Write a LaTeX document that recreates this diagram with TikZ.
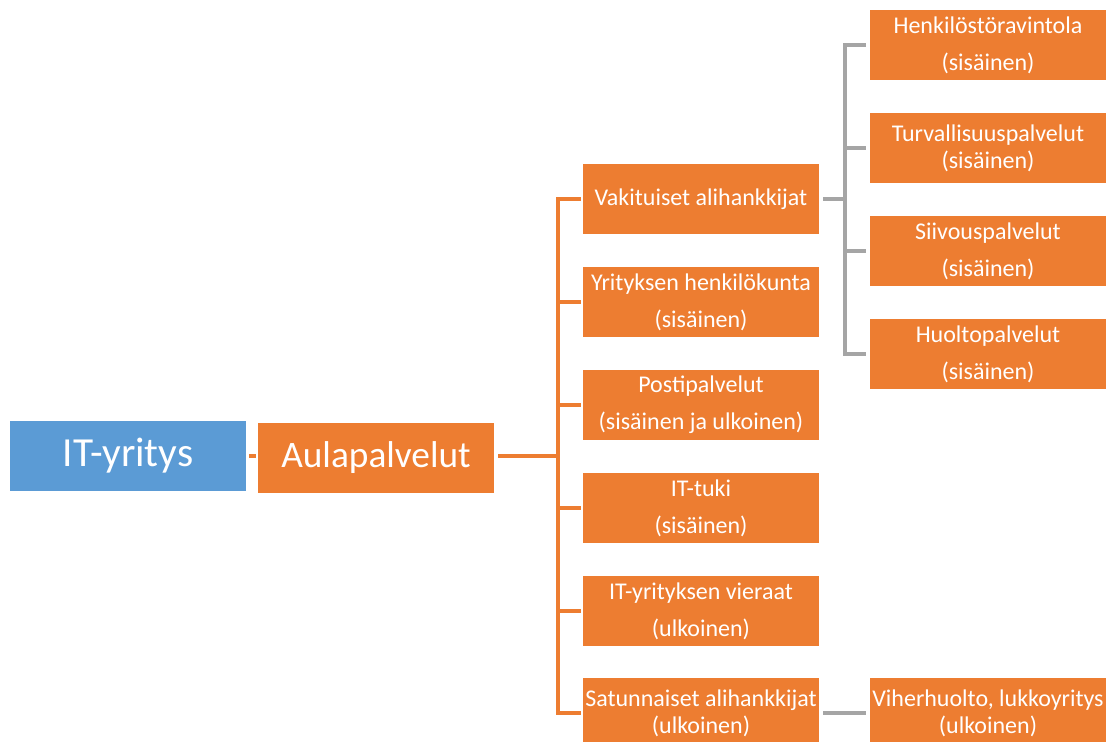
\documentclass[tikz,border=0pt]{standalone}
\usepackage{fontspec}
\setmainfont{Carlito}
\definecolor{orng}{HTML}{ED7D31}
\definecolor{blu}{HTML}{5B9BD5}
\definecolor{gry}{HTML}{A5A5A5}
\begin{document}
\begin{tikzpicture}[x=0.75pt,y=-0.75pt,
  box/.style={fill=orng,text=white,minimum width=177pt,minimum height=52.5pt,inner sep=0pt,align=center,font=\fontsize{18}{20}\selectfont},
  big/.style={minimum width=177pt,minimum height=52.5pt,inner sep=0pt,text=white},
  oline/.style={draw=orng,line width=2.3pt},
  gline/.style={draw=gry,line width=2.3pt}]
\clip (0,0) rectangle (1114,742);
\fill[white] (0,0) rectangle (1114,742);
\node[big,fill=blu,font=\fontsize{31}{34}\selectfont] (it) at (128,456) {IT-yritys};
\node[big,fill=orng,font=\fontsize{28}{31}\selectfont] (aula) at (376,458) {Aulapalvelut};
\node[box] (vak) at (701,199) {Vakituiset alihankkijat};
\node[box] (yh) at (701,302) {Yrityksen henkilökunta\\[8pt](sisäinen)};
\node[box] (post) at (701,405) {Postipalvelut\\[8pt](sisäinen ja ulkoinen)};
\node[box] (tuki) at (701,508) {IT-tuki\\[8pt](sisäinen)};
\node[box] (vier) at (701,611) {IT-yrityksen vieraat\\[8pt](ulkoinen)};
\node[box] (sat) at (701,713) {Satunnaiset alihankkijat\\(ulkoinen)};
\node[box] (henk) at (988,45) {Henkilöstöravintola\\[8pt](sisäinen)};
\node[box] (turv) at (988,148) {Turvallisuuspalvelut\\(sisäinen)};
\node[box] (siiv) at (988,251) {Siivouspalvelut\\[8pt](sisäinen)};
\node[box] (huol) at (988,354) {Huoltopalvelut\\[8pt](sisäinen)};
\node[box] (vih) at (988,713) {Viherhuolto, lukkoyritys\\(ulkoinen)};
\coordinate (tr) at (558,456);
\coordinate (gt) at (845,199);
\draw[oline,shorten <=2pt,shorten >=1.5pt] (it.east) -- (aula.west |- it.east);
\draw[oline,shorten <=3pt] (aula.east |- tr) -- (tr);
\foreach \n in {vak,yh,post,tuki,vier,sat}
  \draw[oline,shorten >=1.5pt] (tr) |- (\n.west);
\draw[gline,shorten <=3pt] (vak.east) -- (gt);
\foreach \n in {henk,turv,siiv,huol}
  \draw[gline,shorten >=2.5pt] (gt) |- (\n.west);
\draw[gline,shorten <=3pt,shorten >=3pt] (sat.east) -- (vih.west);
\end{tikzpicture}
\end{document}
